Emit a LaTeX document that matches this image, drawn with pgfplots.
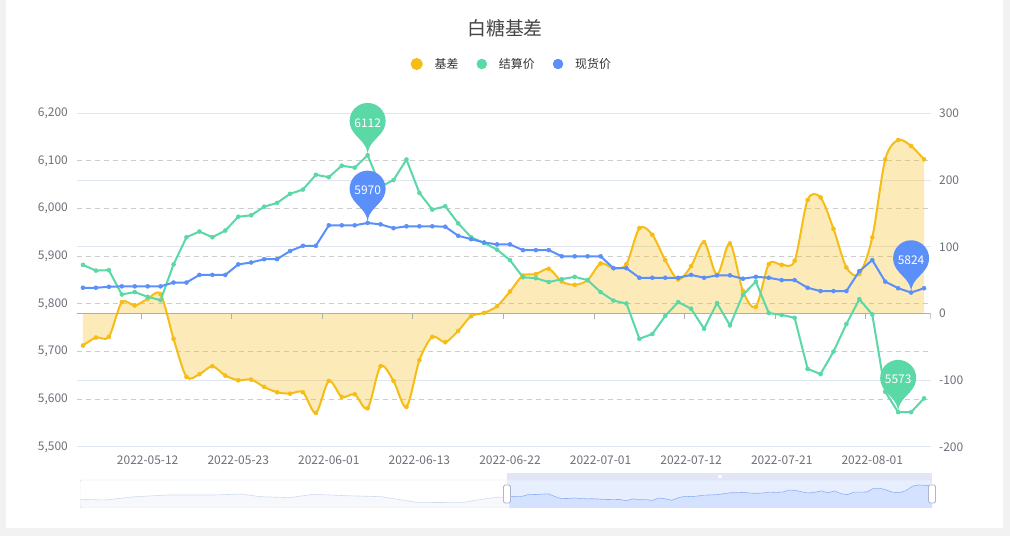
\documentclass[border=0pt]{standalone}
\usepackage{pgfplots}
\pgfplotsset{compat=1.18}
\usepackage{pgfplotstable}
\usepackage{fontspec}
\setmainfont{Noto Sans CJK SC}

\definecolor{cy}{HTML}{F6BD16}
\definecolor{cg}{HTML}{5AD8A6}
\definecolor{cb}{HTML}{5B8FF9}
\definecolor{ticktext}{HTML}{6E7079}
\definecolor{gridsolid}{HTML}{E0E6F1}
\definecolor{griddash}{HTML}{CCCCCC}
\definecolor{axisline}{HTML}{AFAFAF}
\definecolor{titlec}{HTML}{464646}
\definecolor{legc}{HTML}{333333}
\definecolor{pagebg}{HTML}{F2F2F2}
\definecolor{dzborder}{HTML}{D2DBEE}
\definecolor{dzshadow}{HTML}{F6F8FC}
\definecolor{dzfiller}{HTML}{E7EFFF}
\definecolor{dzsel}{HTML}{D5E2FF}
\definecolor{dzselline}{HTML}{8FB0F7}
\definecolor{dzmove}{HTML}{E0E6F3}
\definecolor{dzhandle}{HTML}{ACB8D1}

% echarts-like "pin" marker, tip at the data point
\pgfdeclareplotmark{pin}{%
  \pgfpathmoveto{\pgfpoint{-16.26bp}{26.57bp}}%
  \pgfpatharc{205.38}{-25.38}{18bp}%
  \pgfpathcurveto{\pgfpoint{11.63bp}{16.82bp}}{\pgfpoint{0bp}{12.6bp}}{\pgfpointorigin}%
  \pgfpathcurveto{\pgfpoint{0bp}{12.6bp}}{\pgfpoint{-11.63bp}{16.82bp}}{\pgfpoint{-16.26bp}{26.57bp}}%
  \pgfpathclose
  \pgfusepathqfill}

% i = trading day from 2022-05-05 to 2022-08-05
\pgfplotstableread{
i spot settle basis
0 5834 5882 -48
1 5834 5870 -36
2 5836 5871 -35
3 5837 5820 17
4 5837 5825 12
5 5837 5815 22
6 5837 5808 29
7 5845 5883 -38
8 5845 5940 -95
9 5861 5952 -91
10 5861 5940 -79
11 5861 5954 -93
12 5883 5983 -100
13 5887 5986 -99
14 5894 6004 -110
15 5894 6012 -118
16 5911 6031 -120
17 5922 6040 -118
18 5922 6071 -149
19 5965 6066 -101
20 5965 6090 -125
21 5965 6086 -121
22 5970 6112 -142
23 5967 6046 -79
24 5959 6060 -101
25 5963 6103 -140
26 5963 6033 -70
27 5963 5998 -35
28 5962 6005 -43
29 5943 5969 -26
30 5936 5940 -4
31 5929 5928 1
32 5925 5914 11
33 5925 5892 33
34 5913 5856 57
35 5913 5854 59
36 5913 5846 67
37 5900 5852 48
38 5900 5857 43
39 5900 5850 50
40 5900 5825 75
41 5875 5807 68
42 5875 5801 74
43 5855 5727 128
44 5855 5737 118
45 5855 5775 80
46 5855 5804 51
47 5861 5790 71
48 5855 5748 107
49 5860 5802 58
50 5860 5755 105
51 5853 5819 34
52 5857 5847 10
53 5855 5781 74
54 5850 5777 73
55 5850 5771 79
56 5834 5664 170
57 5827 5653 174
58 5827 5700 127
59 5827 5758 69
60 5869 5810 59
61 5892 5778 114
62 5847 5616 231
63 5833 5573 260
64 5824 5573 251
65 5833 5602 231
}\sugar

\pgfplotsset{
  mainax/.style={
    scale only axis, width=854bp, height=333.7bp,
    at={(76.5bp,89bp)}, anchor=south west,
    xmin=-0.5, xmax=65.5,
    axis line style={draw=none},
    major tick length=0pt,
    tick label style={font=\fontsize{12}{14}\selectfont, text=ticktext, inner sep=0pt},
    /pgf/number format/assume math mode=true,
  },
  pinlabel/.style={
    point meta=explicit symbolic, nodes near coords,
    every node near coord/.append style={anchor=center, yshift=32.5bp, text=white,
      inner sep=0pt, font=\fontsize{12}{12}\selectfont},
  },
}

\begin{document}
\begin{tikzpicture}[x=1bp,y=1bp]
\useasboundingbox (0,0) rectangle (1010,536);
\fill[pagebg] (0,0) rectangle (1010,536);
\fill[white] (6,8) rectangle (1003,536);

\node[font=\fontsize{19}{19}\selectfont, text=titlec] at (505,508) {白糖基差};

% left scale: dashed grid and labels
\begin{axis}[mainax,
  ymin=5500, ymax=6200, ytick={5500,5600,...,6200},
  yticklabel style={anchor=east, xshift=-8.5bp, /pgf/number format/1000 sep={,}},
  ymajorgrids, y grid style={griddash, dash pattern=on 5bp off 4bp, line width=1bp},
  xtick=\empty]
\end{axis}

% right scale: basis
\begin{axis}[mainax,
  ymin=-200, ymax=300, ytick={-200,-100,...,300},
  yticklabel pos=right,
  yticklabel style={anchor=west, xshift=8.5bp},
  ymajorgrids, y grid style={gridsolid, line width=1bp},
  xtick={5,12,...,61},
  xticklabels={2022-05-12,2022-05-23,2022-06-01,2022-06-13,2022-06-22,2022-07-01,2022-07-12,2022-07-21,2022-08-01},
  xticklabel style={anchor=north, yshift=-8.5bp},
  legend columns=3, legend cell align=left,
  legend image code/.code={\fill[#1] (5bp,0bp) circle (5bp);},
  legend style={at={(0.3913,1.1477)}, anchor=west, draw=none, fill=none,
    inner sep=0pt, outer sep=0pt, font=\fontsize{12}{14}\selectfont, text=legc,
    nodes={inner sep=0pt},
    /tikz/every odd column/.append style={column sep=12bp},
    /tikz/every even column/.append style={column sep=18bp}},
  ]
\addplot[forget plot, draw=none, fill=cy, fill opacity=0.3, smooth]
  table[x=i, y=basis] {\sugar} \closedcycle;
\addplot[color=cy, line width=2bp, smooth, mark=*, mark size=2bp,
  mark options={line width=0.5bp}] table[x=i, y=basis] {\sugar};
\addlegendentry{基差}
\addplot[forget plot, axisline, line width=1bp] coordinates {(-0.5,0) (65.5,0)};
\pgfplotsinvokeforeach{4.5,11.5,18.5,25.5,32.5,39.5,46.5,53.5,60.5,65.5}{
  \draw[axisline, line width=1bp] (axis cs:#1,0) -- ([yshift=-5bp]axis cs:#1,0);
}
\addlegendimage{cg}
\addlegendentry{结算价}
\addlegendimage{cb}
\addlegendentry{现货价}
\end{axis}

% left scale: settlement and spot prices
\begin{axis}[mainax, ymin=5500, ymax=6200, ytick=\empty, xtick=\empty, clip=false]
\addplot[color=cg, line width=2bp, mark=*, mark size=2bp, mark options={line width=0.5bp}]
  table[x=i, y=settle] {\sugar};
\addplot[color=cb, line width=2bp, mark=*, mark size=2bp, mark options={line width=0.5bp}]
  table[x=i, y=spot] {\sugar};
\addplot[color=cg, only marks, mark=pin, pinlabel]
  coordinates {(22,6112) [6112] (63,5573) [5573]};
\addplot[color=cb, only marks, mark=pin, pinlabel]
  coordinates {(22,5970) [5970] (64,5824) [5824]};
\end{axis}

% data zoom slider (shadow of the basis over the full range)
\begin{axis}[scale only axis, width=852bp, height=28bp, at={(80bp,28bp)}, anchor=south west,
  xmin=0, xmax=131, ymin=-339, ymax=390, hide axis]
\fill[dzfiller] (axis cs:65.65,-339) rectangle (axis cs:131,390);
\addplot[draw=none, fill=dzshadow] coordinates {
  (0,-113) (4,-131) (8.4,-45) (13.7,0) (20.8,0) (24.7,25) (27.8,-45) (32.2,-71)
  (35.8,17) (41,-19) (46.4,-45) (51.7,-191) (58.7,-201) (60.4,-149) (64,-61) (66,-48)}
  |- (axis cs:0,-339) -- cycle;
\addplot[dzborder, line width=0.6bp] coordinates {
  (0,-113) (4,-131) (8.4,-45) (13.7,0) (20.8,0) (24.7,25) (27.8,-45) (32.2,-71)
  (35.8,17) (41,-19) (46.4,-45) (51.7,-191) (58.7,-201) (60.4,-149) (64,-61) (66,-48)};
\addplot[draw=none, fill=dzsel] table[x expr=\thisrow{i}+66, y=basis] {\sugar}
  |- (axis cs:66,-339) -- cycle;
\addplot[dzselline, line width=0.6bp] table[x expr=\thisrow{i}+66, y=basis] {\sugar};
\draw[dzborder, rounded corners=2bp] (rel axis cs:0,0) rectangle (rel axis cs:1,1);
\end{axis}
\fill[dzmove] (507,56) rectangle (932,62.7);
\fill[white, opacity=0.8] (718,57.8) rectangle (721.5,61);
\filldraw[fill=white, draw=dzhandle, line width=0.8bp, rounded corners=1.5bp] (503.5,33) rectangle (510.5,51);
\filldraw[fill=white, draw=dzhandle, line width=0.8bp, rounded corners=1.5bp] (928.5,33) rectangle (935.5,51);
\end{tikzpicture}
\end{document}
